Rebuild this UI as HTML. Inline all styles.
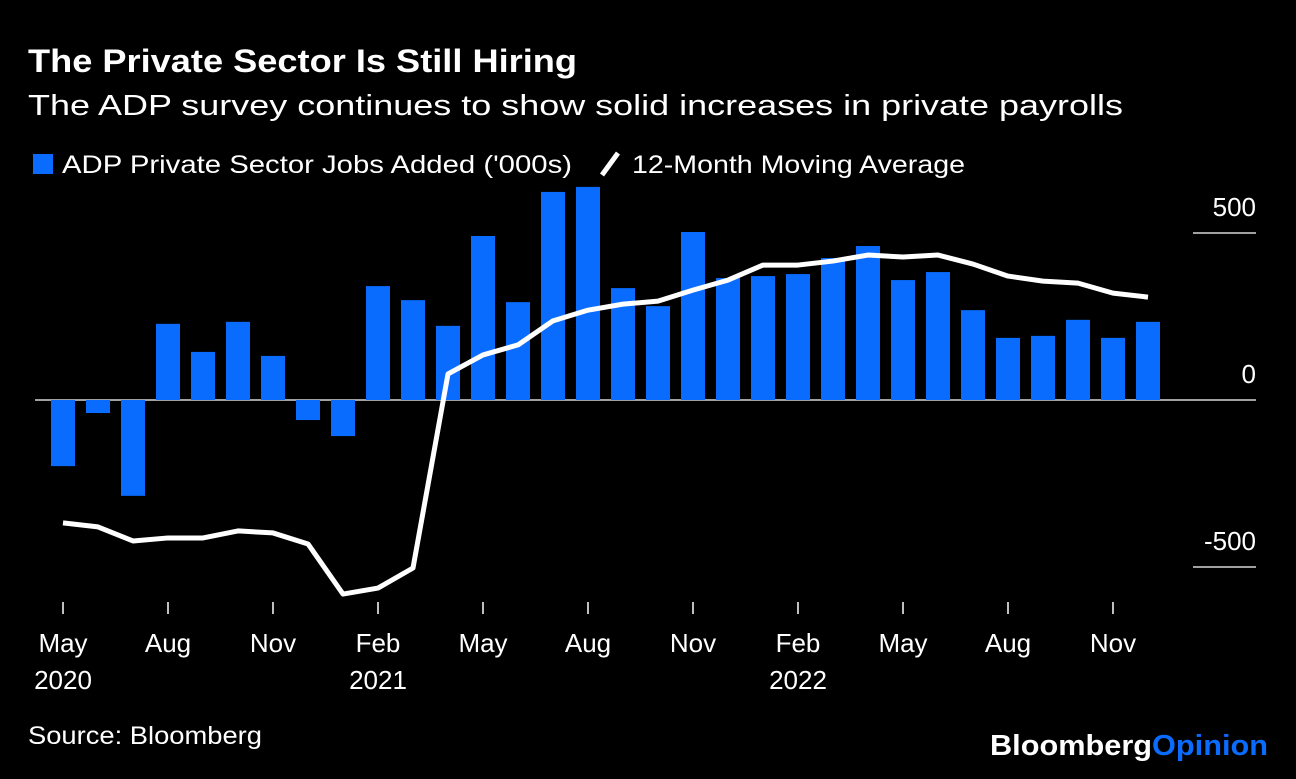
<!DOCTYPE html>
<html><head><meta charset="utf-8"><style>
body{margin:0;background:#000;width:1296px;height:774px;overflow:hidden;font-family:"Liberation Sans",sans-serif;color:#fff}
</style></head><body>
<svg width="1296" height="774" xmlns="http://www.w3.org/2000/svg" font-family="Liberation Sans, sans-serif">
<text x="28" y="72" font-size="32" font-weight="bold" fill="#fff" textLength="549" lengthAdjust="spacingAndGlyphs">The Private Sector Is Still Hiring</text>
<text x="28" y="115" font-size="29" fill="#fff" textLength="1095" lengthAdjust="spacingAndGlyphs">The ADP survey continues to show solid increases in private payrolls</text>
<g>
<rect x="33" y="154" width="20" height="20" fill="#0a6cff"/>
<text x="62" y="173" font-size="25" fill="#fff" textLength="510" lengthAdjust="spacingAndGlyphs">ADP Private Sector Jobs Added ('000s)</text>
<line x1="602" y1="175" x2="618" y2="153" stroke="#fff" stroke-width="5"/>
<text x="632" y="173" font-size="25" fill="#fff" textLength="333" lengthAdjust="spacingAndGlyphs">12-Month Moving Average</text>
</g>
<g id="grid"></g><g id="bars"></g><g id="line"></g><g id="xaxis"></g><g id="yaxis"></g>
<text x="28" y="744" font-size="25" fill="#fff" textLength="234" lengthAdjust="spacingAndGlyphs">Source: Bloomberg</text>
<text x="990" y="755" font-size="29" font-weight="bold" textLength="278" lengthAdjust="spacingAndGlyphs"><tspan fill="#fff">Bloomberg</tspan><tspan fill="#0a6cff">Opinion</tspan></text>
</svg>
<script>
const months=["May","Jun","Jul","Aug","Sep","Oct","Nov","Dec","Jan","Feb","Mar","Apr","May","Jun","Jul","Aug","Sep","Oct","Nov","Dec","Jan","Feb","Mar","Apr","May","Jun","Jul","Aug","Sep","Oct","Nov","Dec"];
const years=["2020","","","","","","","","","2021","","","","","","","","","","","","2022","","","","","","","","","",""];
const jobs=[-198,-39,-287,228,144,234,132,-60,-108,341,299,222,491,293,623,638,335,281,503,365,371,377,425,461,359,383,269,186,192,240,186,234];
const avg=[-368,-380,-422,-413,-413,-392,-398,-431,-581,-563,-503,78,135,165,237,269,287,296,329,359,404,404,416,434,428,434,407,371,356,350,320,308];
const yTicks=[500,0,-500];
const NS="http://www.w3.org/2000/svg";
const x=i=>63+i*35;
const y=v=>400-v*0.334;
function mk(t,a,p){const e=document.createElementNS(NS,t);for(const k in a)e.setAttribute(k,a[k]);p.appendChild(e);return e;}
const g=document.getElementById('grid'),b=document.getElementById('bars'),l=document.getElementById('line'),xa=document.getElementById('xaxis'),ya=document.getElementById('yaxis');
yTicks.forEach(v=>{
 const ln=mk('line',{x1:v===0?35:1193,x2:1256,y1:y(v),y2:y(v),stroke:'#fff','stroke-width':1.3},g);
 
 
 const t=mk('text',{x:1256,y:y(v)-17,'font-size':26,fill:'#fff','text-anchor':'end'},ya);
 t.textContent=String(v);
 
 
});
jobs.forEach((v,i)=>{
 const r=mk('rect',{x:x(i)-12,y:Math.min(y(v),y(0)),width:24,height:Math.abs(y(v)-y(0)),fill:'#0a6cff'},b);
 
 
});
const pl=mk('polyline',{points:avg.map((v,i)=>x(i)+','+y(v)).join(' '),fill:'none',stroke:'#fff','stroke-width':5,'stroke-linejoin':'round'},l);


months.forEach((m,i)=>{
 if(!["May","Aug","Nov","Feb"].includes(m))return;
 const tk=mk('line',{x1:x(i),x2:x(i),y1:602,y2:614,stroke:'#fff','stroke-width':1.5},xa);
 
 
 const t=mk('text',{x:x(i),y:652,'font-size':26,fill:'#fff','text-anchor':'middle'},xa);
 t.textContent=m;
 
 
 if(years[i]){const yt=mk('text',{x:x(i),y:689,'font-size':26,fill:'#fff','text-anchor':'middle'},xa);
 yt.textContent=years[i];
 
 }
});
</script>
</body></html>
